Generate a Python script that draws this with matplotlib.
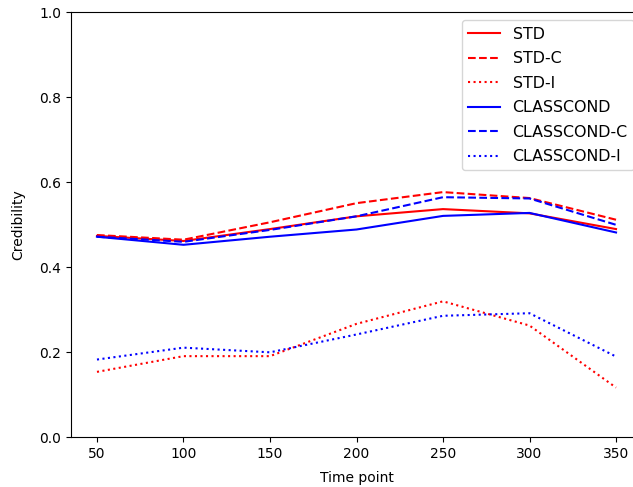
import matplotlib
matplotlib.use("Agg")
import matplotlib.pyplot as plt

time_points = [50, 100, 150, 200, 250, 300, 350]
std = [0.474, 0.462, 0.490, 0.520, 0.537, 0.527, 0.490]
std_c = [0.476, 0.465, 0.506, 0.551, 0.577, 0.563, 0.512]
std_i = [0.154, 0.191, 0.191, 0.267, 0.320, 0.263, 0.117]
classcond = [0.472, 0.453, 0.472, 0.489, 0.521, 0.528, 0.482]
classcond_c = [0.472, 0.460, 0.488, 0.520, 0.565, 0.562, 0.500]
classcond_i = [0.183, 0.211, 0.200, 0.242, 0.286, 0.292, 0.190]

fig = plt.figure(figsize=(6.33, 4.87), dpi=100)
ax = fig.add_axes([0.1122, 0.102, 1.0142 - 0.1122, 0.9747 - 0.102])

ax.plot(time_points, std, color='red', linestyle='-', label='STD')
ax.plot(time_points, std_c, color='red', linestyle='--', label='STD-C')
ax.plot(time_points, std_i, color='red', linestyle=':', label='STD-I')
ax.plot(time_points, classcond, color='blue', linestyle='-', label='CLASSCOND')
ax.plot(time_points, classcond_c, color='blue', linestyle='--', label='CLASSCOND-C')
ax.plot(time_points, classcond_i, color='blue', linestyle=':', label='CLASSCOND-I')

ax.set_ylim(0, 1.0)
ax.set_xlim(35, 365)
ax.set_xticks(time_points)
ax.set_xlabel('Time point', labelpad=7)
ax.set_ylabel('Credibility', labelpad=10)
ax.legend(loc='upper right', fontsize=11.4, labelspacing=0.6)

fig.savefig('out.png', dpi=100)
